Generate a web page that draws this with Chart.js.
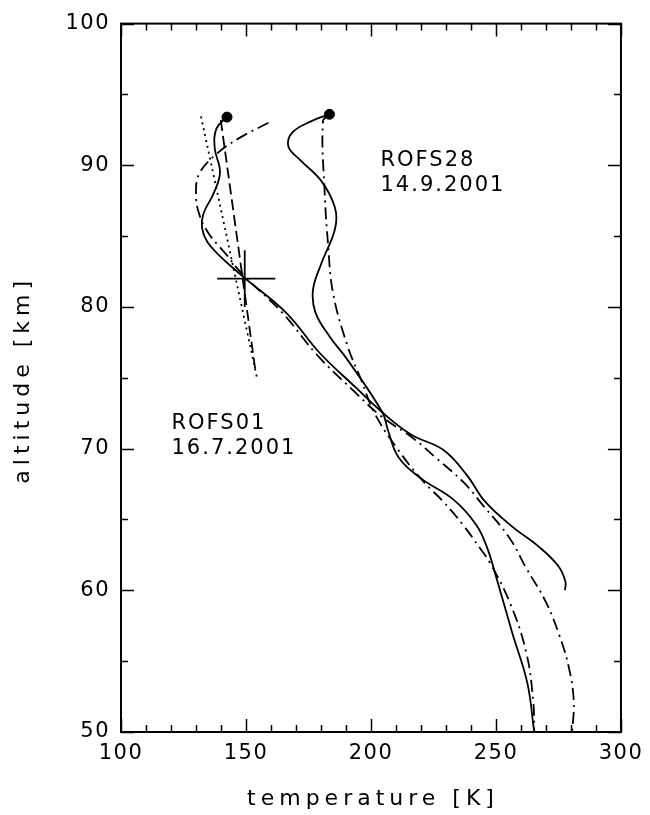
<!DOCTYPE html>
<html>
<head>
<meta charset="utf-8">
<script src="https://cdn.jsdelivr.net/npm/chart.js@4/dist/chart.umd.min.js"></script>
<style>
  html, body { margin: 0; padding: 0; background: #fff; }
  #box { width: 650px; height: 815px; }
</style>
</head>
<body>
<div id="box"><canvas id="myChart" width="650" height="815"></canvas></div>
<script>
// axis limits and ticks
let tMin = 100, tMax = 300, tStep = 10, tMajor = 50;
let altMin = 50, altMax = 100, altStep = 5, altMajor = 10;

// ROFS01 (16.7.2001), solid profile, ends at 60 km
let rofs01T   = [142.4, 138.2, 137.5, 139.6, 137.0, 133.0, 132.4, 134.5, 139.5, 144.5, 149.4, 166.0, 179.5, 194.0, 204.6, 216.0, 229.0, 238.5, 245.5, 256.5, 267.0, 275.0, 277.8, 277.6];
let rofs01Alt = [93.4, 92.6, 91.2, 89.5, 88.0, 86.6, 85.6, 84.6, 83.6, 82.8, 82.05, 79.6, 76.75, 74.3, 72.55, 71.0, 69.9, 68.1, 66.3, 64.5, 63.1, 61.7, 60.6, 60.0];

// ROFS01 reference, dash-dot
let rofs01RefT   = [159.0, 147.1, 137.9, 131.3, 130.0, 131.3, 135.2, 141.9, 148.4, 164.5, 178.5, 193.5, 204.0, 217.1, 226.3, 236.9, 244.8, 255.4, 262.0, 269.9, 275.2, 279.1, 281.1, 280.5];
let rofs01RefAlt = [93.0, 91.9, 90.75, 89.4, 88.0, 86.55, 85.15, 83.75, 82.35, 79.6, 76.6, 74.0, 72.3, 70.7, 69.3, 67.65, 66.0, 63.7, 61.6, 59.2, 56.9, 54.6, 52.2, 50.0];

// ROFS28 (14.9.2001), solid profile
let rofs28T   = [183.4, 176.0, 168.5, 167.0, 171.5, 180.1, 185.6, 185.6, 180.1, 176.8, 177.8, 183.5, 190.5, 204.6, 206.8, 211.0, 220.0, 233.0, 242.2, 246.5, 249.5, 256.5, 262.5, 265.3];
let rofs28Alt = [93.6, 93.1, 92.3, 91.3, 90.4, 88.9, 87.0, 85.5, 83.05, 81.2, 79.6, 77.9, 76.3, 72.55, 71.3, 69.4, 67.9, 66.4, 64.6, 63.0, 61.3, 57.0, 53.5, 50.0];

// ROFS28 reference, dash-dot
let rofs28RefT   = [183.4, 180.8, 181.5, 182.8, 184.8, 190.7, 196.0, 201.3, 210.5, 221.1, 229.0, 236.9, 243.5, 247.4, 255.4, 262.0, 264.9, 265.3];
let rofs28RefAlt = [93.6, 93.1, 88.0, 84.5, 81.0, 77.2, 74.9, 72.55, 70.0, 67.65, 66.25, 64.6, 63.0, 62.0, 59.2, 55.7, 52.2, 50.0];

// straight fits near the mesopause
let dottedT = [132.0, 154.4];
let dottedAlt = [93.45, 75.0];
let dashedT = [139.9, 153.7];
let dashedAlt = [93.2, 75.6];

// start points of the soundings
let startT = [142.4, 183.4];
let startAlt = [93.4, 93.6];

// single point with error bars
let crossT = 149.5, crossAlt = 82.0;
let crossTRange = [138.5, 161.7];
let crossAltRange = [80.0, 84.0];

// labels in the plot (anchored in data units)
let labelTexts = [["ROFS01", "16.7.2001"], ["ROFS28", "14.9.2001"]];
let labelT = [120.2, 203.8];
let labelAlt = [71.4, 89.95];

function toPoints(xs, ys){
    let pts = [];
    for(let i=0;i<xs.length;i++){
        pts.push({x: xs[i], y: ys[i]});
    }
    return pts;
}

function line(xs, ys, dash){
    return {
        data: toPoints(xs, ys),
        showLine: true,
        borderColor: '#000',
        borderWidth: 1.8,
        borderDash: dash,
        pointRadius: 0,
        tension: 0.4,
        fill: false
    };
}

const fontName = '"DejaVu Sans", sans-serif';

const frame = {
    id: 'frame',
    beforeDraw(chart){
        chart.ctx.letterSpacing = '1.5px';
    },
    afterDraw(chart){
        const ctx = chart.ctx;
        const a = chart.chartArea;
        const xs = chart.scales.x, ys = chart.scales.y;
        ctx.save();
        ctx.strokeStyle = '#000';
        ctx.lineWidth = 2;
        ctx.strokeRect(a.left, a.top, a.right - a.left, a.bottom - a.top);
        ctx.lineWidth = 1.5;
        ctx.beginPath();
        for(let t of xs.ticks){
            let px = Math.round(xs.getPixelForValue(t.value)) + 0.5;
            let len = (t.value % tMajor === 0) ? 13 : 7;
            ctx.moveTo(px, a.bottom); ctx.lineTo(px, a.bottom - len);
            ctx.moveTo(px, a.top); ctx.lineTo(px, a.top + len);
        }
        for(let t of ys.ticks){
            let py = Math.round(ys.getPixelForValue(t.value)) + 0.5;
            let len = (t.value % altMajor === 0) ? 13 : 7;
            ctx.moveTo(a.left, py); ctx.lineTo(a.left + len, py);
            ctx.moveTo(a.right, py); ctx.lineTo(a.right - len, py);
        }
        ctx.stroke();

        // text labels in the plot
        ctx.fillStyle = '#000';
        ctx.font = '21px ' + fontName;
        ctx.letterSpacing = '2px';
        ctx.textAlign = 'left';
        ctx.textBaseline = 'alphabetic';
        for(let i=0;i<labelTexts.length;i++){
            let px = xs.getPixelForValue(labelT[i]);
            let py = ys.getPixelForValue(labelAlt[i]);
            ctx.fillText(labelTexts[i][0], px, py);
            ctx.fillText(labelTexts[i][1], px, py + 25);
        }

        // axis titles
        ctx.font = '22px ' + fontName;
        ctx.letterSpacing = '5px';
        ctx.textAlign = 'center';
        ctx.textBaseline = 'middle';
        ctx.fillText('temperature [K]', (a.left + a.right) / 2 + 2, 799);
        ctx.translate(23, (a.top + a.bottom) / 2 + 2);
        ctx.rotate(-Math.PI / 2);
        ctx.fillText('altitude [km]', 0, 0);
        ctx.restore();
    }
};

function Place(){
    const ctx = document.getElementById('myChart');
    new Chart(ctx, {
        type: 'scatter',
        data: {
            datasets: [
                line(rofs01T, rofs01Alt, []),
                line(rofs01RefT, rofs01RefAlt, [12, 5, 2, 5]),
                line(rofs28T, rofs28Alt, []),
                line(rofs28RefT, rofs28RefAlt, [12, 5, 2, 5]),
                line(dottedT, dottedAlt, [2, 4]),
                line(dashedT, dashedAlt, [11, 5]),
                line(crossTRange, [crossAlt, crossAlt], []),
                line([crossT, crossT], crossAltRange, []),
                {
                    data: toPoints(startT, startAlt),
                    showLine: false,
                    pointRadius: 5,
                    pointBackgroundColor: '#000',
                    pointBorderColor: '#000'
                }
            ]
        },
        options: {
            responsive: false,
            animation: false,
            devicePixelRatio: 1,
            layout: { padding: { top: 18, right: 24, left: 0, bottom: 0 } },
            plugins: { legend: { display: false }, tooltip: { enabled: false } },
            scales: {
                x: {
                    type: 'linear', min: tMin, max: tMax,
                    grid: { display: false, drawTicks: false },
                    border: { display: false },
                    afterFit: s => { s.height = 83; },
                    ticks: {
                        stepSize: tStep, autoSkip: false, maxRotation: 0, padding: 9,
                        color: '#000', font: { family: fontName, size: 21 },
                        callback: v => (v % tMajor === 0 ? String(v) : '')
                    }
                },
                y: {
                    type: 'linear', min: altMin, max: altMax,
                    grid: { display: false, drawTicks: false },
                    border: { display: false },
                    afterFit: s => { s.width = 121; },
                    ticks: {
                        stepSize: altStep, autoSkip: false, padding: 11,
                        color: '#000', font: { family: fontName, size: 21 },
                        callback: v => (v % altMajor === 0 ? String(v) : '')
                    }
                }
            }
        },
        plugins: [frame]
    });
}

Place();
</script>
</body>
</html>
